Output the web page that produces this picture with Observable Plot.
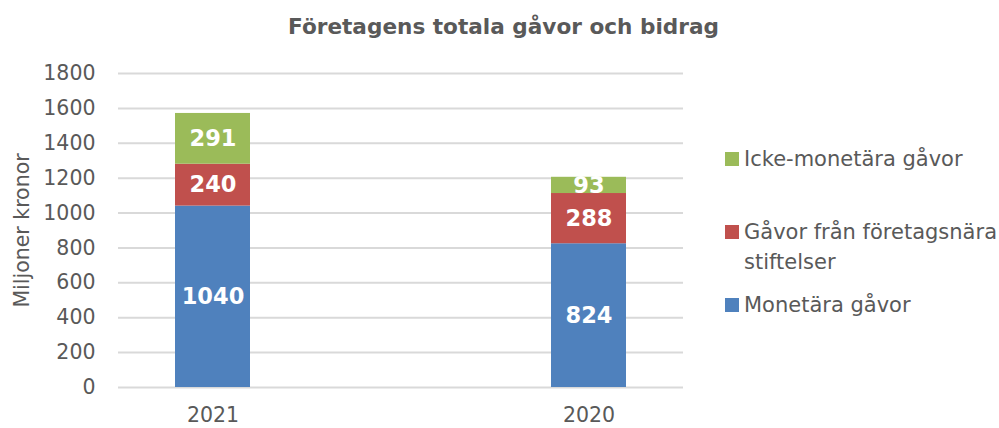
<!DOCTYPE html>
<html>
<head>
<meta charset="utf-8">
<script src="https://cdn.jsdelivr.net/npm/d3@7"></script>
<script src="https://cdn.jsdelivr.net/npm/@observablehq/plot@0.6"></script>
<style>
  html, body { margin: 0; padding: 0; background: #fff; }
  #wrap { position: relative; width: 999px; height: 428px; font-family: "DejaVu Sans", sans-serif; color: #595959; }
  #title { position: absolute; left: 4px; width: 999px; top: 14px; text-align: center; font-weight: bold; font-size: 21.6px; color: #595959; }
  #legend { position: absolute; left: 725px; top: 0; width: 274px; }
  .item { position: absolute; left: 0; font-size: 21px; line-height: 30px; color: #595959; white-space: nowrap; }
  .sw { position: absolute; left: 0; top: 0; width: 14px; height: 14px; }
  .lt { position: absolute; left: 19px; top: -8px; }
</style>
</head>
<body>
<div id="wrap">
  <div id="chart"></div>
  <div id="title">Företagens totala gåvor och bidrag</div>
  <div id="legend"></div>
</div>
<script>
const years = ["2021", "2020"];
const series = ["Monetära gåvor", "Gåvor från företagsnära stiftelser", "Icke-monetära gåvor"];
const monetara = [1040, 824];
const stiftelser = [240, 288];
const ickeMonetara = [291, 93];
const colors = ["#4F81BD", "#C0504D", "#9BBB59"];
const yTicks = [0, 200, 400, 600, 800, 1000, 1200, 1400, 1600, 1800];

const valuesBySeries = [monetara, stiftelser, ickeMonetara];
const data = [];
series.forEach((s, si) => years.forEach((y, yi) => data.push({year: y, series: s, value: valuesBySeries[si][yi]})));

const chart = Plot.plot({
  width: 999,
  height: 428,
  marginLeft: 118,
  marginRight: 316,
  marginTop: 73,
  marginBottom: 41,
  style: {fontFamily: "DejaVu Sans, sans-serif", fontSize: "20px", color: "#595959", background: "#fff"},
  x: {domain: years, paddingInner: 0.8, paddingOuter: 0.15, label: null},
  y: {domain: [0, 1800], ticks: yTicks, label: null},
  color: {domain: series, range: colors},
  marks: [
    Plot.gridY(yTicks, {stroke: "#D9D9D9", strokeOpacity: 1, strokeWidth: 2}),
    Plot.barY(data, Plot.stackY({x: "year", y: "value", fill: "series", order: series})),
    Plot.axisY({ticks: yTicks, tickSize: 0, tickPadding: 23, tickFormat: d => String(d), label: null, fontSize: 20.5, fill: "#595959"}),
    Plot.axisX({tickSize: 0, tickPadding: 20, label: null, fontSize: 20.5, fill: "#595959"}),
    Plot.text(["Miljoner kronor"], {frameAnchor: "left", textAnchor: "middle", dx: -96, rotate: -90, fontSize: 20.5, fill: "#595959"}),
    Plot.text(data, Plot.stackY({x: "year", y: "value", z: "series", order: series, text: d => String(d.value), fill: "white", fontWeight: "bold", fontSize: 22.5}))
  ]
});
document.getElementById("chart").appendChild(chart);

const legendItems = [
  {label: "Icke-monetära gåvor", color: colors[2], top: 152},
  {label: "Gåvor från företagsnära<br>stiftelser", color: colors[1], top: 225},
  {label: "Monetära gåvor", color: colors[0], top: 298}
];
const leg = document.getElementById("legend");
legendItems.forEach(it => {
  const div = document.createElement("div");
  div.className = "item";
  div.style.top = it.top + "px";
  div.innerHTML = `<span class="sw" style="background:${it.color}"></span><span class="lt">${it.label}</span>`;
  leg.appendChild(div);
});
</script>
</body>
</html>
